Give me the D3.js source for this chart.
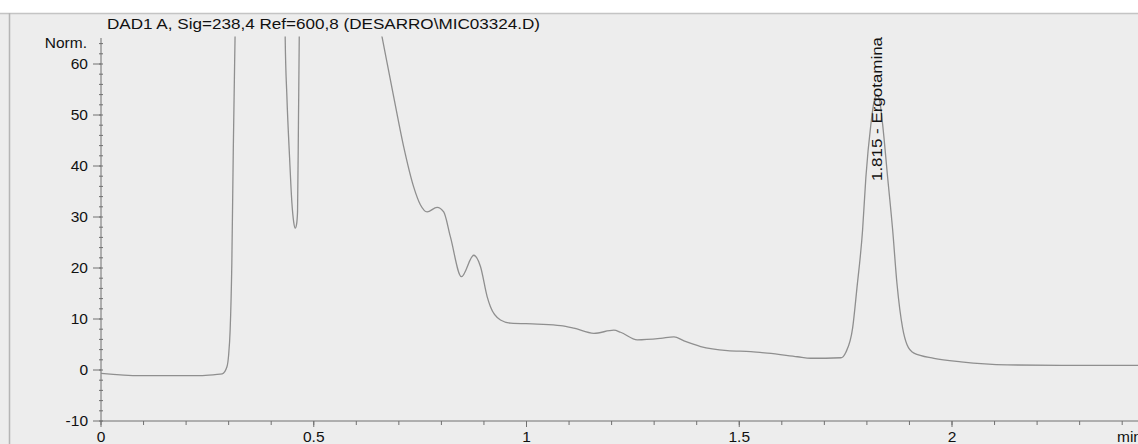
<!DOCTYPE html>
<html>
<head>
<meta charset="utf-8">
<script src="https://cdn.jsdelivr.net/npm/d3@7"></script>
<style>
  body { margin: 0; background: #fff; }
  svg { display: block; }
  text { font-family: "Liberation Sans", Arial, sans-serif; fill: #111; }
</style>
</head>
<body>
<div id="chart"></div>
<script>
// retention time (min) and signal (Norm.)
const times = [0, 0.092, 0.233, 0.268, 0.285, 0.296, 0.300, 0.3035, 0.3075, 0.311, 0.315, 0.32, 0.42,
  0.4306, 0.4329, 0.4369, 0.4431, 0.4487, 0.4529, 0.4565, 0.4595, 0.4619, 0.4642, 0.4659, 0.4682, 0.48, 0.6, 0.64,
  0.6605, 0.6878, 0.7113, 0.7348, 0.7506, 0.7664, 0.7899, 0.8054, 0.8212, 0.8471, 0.8760, 0.8918, 0.9075,
  0.9153, 0.9388, 0.9624, 1.0252, 1.0800, 1.1113, 1.1584, 1.2054, 1.2212, 1.2605, 1.3153, 1.3466, 1.3701,
  1.4094, 1.4722, 1.5271, 1.5664, 1.6369, 1.6682, 1.7388, 1.7506, 1.7664, 1.7765, 1.7899, 1.7976, 1.8094,
  1.8165, 1.8235, 1.8306, 1.8369, 1.8487, 1.8605, 1.8706, 1.8840, 1.8941, 1.9106, 1.9576, 2.0212, 2.1294,
  2.2565, 2.44, 2.5];
const signal = [-0.65, -1.1, -1.1, -0.9, -0.75, 0.65, 3, 7.8, 21, 43.8, 65, 90, 90,
  90, 65, 53.6, 41.8, 32.7, 29, 27.8, 28.5, 31, 50, 65, 100, 100, 100, 74,
  65.3, 53.6, 43.8, 35.9, 32.4, 31, 31.9, 31, 26.1, 18.3, 22.5, 20.3, 14.4,
  12.4, 9.8, 9.2, 9.0, 8.7, 8.2, 7.2, 7.8, 7.4, 5.9, 6.2, 6.5, 5.7,
  4.6, 3.8, 3.6, 3.3, 2.6, 2.3, 2.4, 3.5, 8.2, 16, 27.5, 37.8, 48.2,
  52.5, 54, 52.5, 48.2, 37.8, 27.5, 17, 8.2, 5, 3.3, 2.3, 1.6, 1.0,
  0.9, 0.9, 0.85];

const yTicks = [-10, 0, 10, 20, 30, 40, 50, 60];
const xTicks = [0, 0.5, 1, 1.5, 2];
const title = 'DAD1 A, Sig=238,4 Ref=600,8 (DESARRO\\MIC03324.D)';
const peakLabel = { time: 1.8235, text: '1.815 - Ergotamina' };

const width = 1138, height = 444;
const svg = d3.select('#chart').append('svg')
  .attr('width', width).attr('height', height);

// scanned paper background
svg.append('rect').attr('x', 0).attr('y', 13).attr('width', width).attr('height', height - 13)
  .attr('fill', '#ededed');
svg.append('line').attr('x1', 0).attr('x2', width).attr('y1', 13.5).attr('y2', 13.5)
  .attr('stroke', '#c4c4c4').attr('stroke-width', 1.5);
svg.append('line').attr('x1', 9.5).attr('x2', 9.5).attr('y1', 13).attr('y2', height)
  .attr('stroke', '#b5b5b5').attr('stroke-width', 1.5);

const x = d3.scaleLinear().domain([0, 2.5]).range([101, 101 + 2.5 * 425.5]);
const y = d3.scaleLinear().domain([-10, 65]).range([421, 38.5]);

// title
svg.append('text').attr('x', 107).attr('y', 29).attr('font-size', 15.5)
  .attr('textLength', 433).attr('lengthAdjust', 'spacingAndGlyphs')
  .text(title);

// y axis
const axisColor = '#707070';
svg.append('line').attr('x1', x(0)).attr('x2', x(0)).attr('y1', 38).attr('y2', y(-10))
  .attr('stroke', axisColor);
const yMinor = d3.range(-10, 66, 2);
svg.append('g').selectAll('line').data(yMinor).join('line')
  .attr('x1', x(0) - 2).attr('x2', x(0) + 2)
  .attr('y1', d => y(d)).attr('y2', d => y(d))
  .attr('stroke', axisColor);
svg.append('g').selectAll('line').data(yTicks).join('line')
  .attr('x1', x(0) - 8).attr('x2', x(0))
  .attr('y1', d => y(d)).attr('y2', d => y(d))
  .attr('stroke', axisColor);
svg.append('g').selectAll('text').data(yTicks).join('text')
  .attr('x', 88).attr('y', d => y(d) + 5)
  .attr('text-anchor', 'end').attr('font-size', 15.5)
  .text(d => d);
svg.append('text').attr('x', 87).attr('y', 48).attr('text-anchor', 'end')
  .attr('font-size', 15.5).text('Norm.');

// x axis at the bottom of the range
svg.append('line').attr('x1', x(0)).attr('x2', width).attr('y1', y(-10)).attr('y2', y(-10))
  .attr('stroke', axisColor);
const xMinor = d3.range(0, 2.51, 0.1);
svg.append('g').selectAll('line').data(xMinor).join('line')
  .attr('x1', d => x(d)).attr('x2', d => x(d))
  .attr('y1', y(-10)).attr('y2', y(-10) + 4)
  .attr('stroke', axisColor);
svg.append('g').selectAll('line').data(xTicks).join('line')
  .attr('x1', d => x(d)).attr('x2', d => x(d))
  .attr('y1', y(-10)).attr('y2', y(-10) + 6)
  .attr('stroke', axisColor);
svg.append('g').selectAll('text').data(xTicks).join('text')
  .attr('x', d => x(d)).attr('y', 442)
  .attr('text-anchor', 'middle').attr('font-size', 15.5)
  .text(d => d);
svg.append('text').attr('x', 1117).attr('y', 442).attr('font-size', 15.5).text('min');

// trace
svg.append('clipPath').attr('id', 'plot-clip')
  .append('rect').attr('x', x(0)).attr('y', 36.5).attr('width', width).attr('height', 390);

const data = times.map((t, i) => ({ t, v: signal[i] }));
const line = d3.line()
  .x(d => x(d.t))
  .y(d => y(d.v))
  .curve(d3.curveMonotoneX);

svg.append('path')
  .datum(data)
  .attr('clip-path', 'url(#plot-clip)')
  .attr('fill', 'none')
  .attr('stroke', '#8f8f8f')
  .attr('stroke-width', 1.3)
  .attr('d', line);

// peak annotation
svg.append('text')
  .attr('transform', `translate(${x(peakLabel.time) + 5},181) rotate(-90)`)
  .attr('font-size', 14)
  .attr('textLength', 144)
  .attr('lengthAdjust', 'spacingAndGlyphs')
  .text(peakLabel.text);
</script>
</body>
</html>
